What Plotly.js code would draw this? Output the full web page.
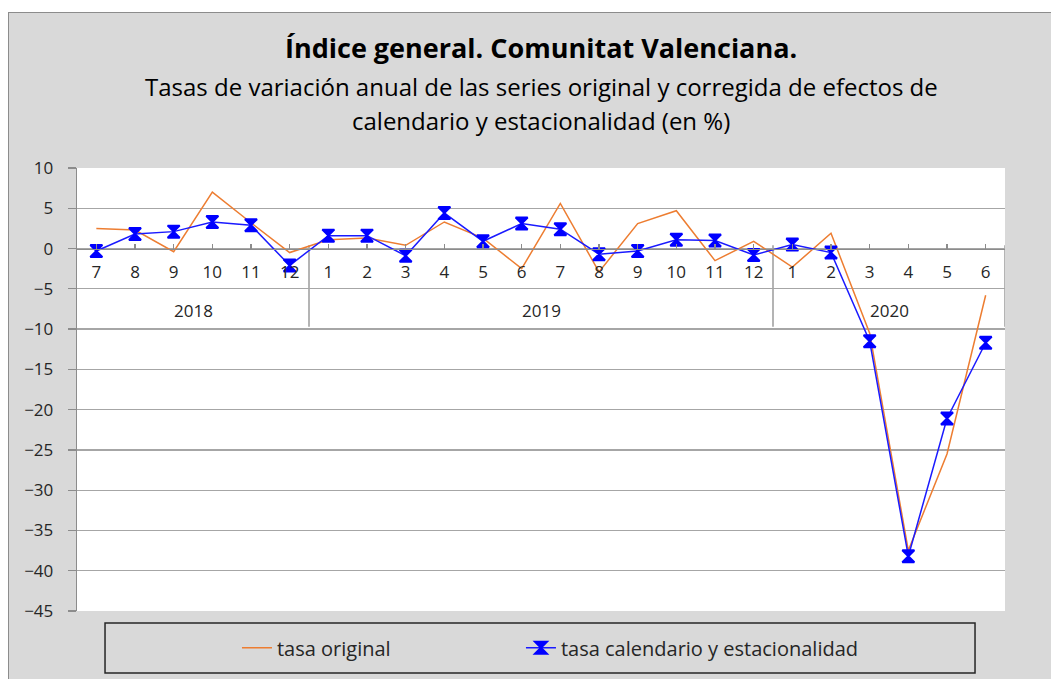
<!DOCTYPE html>
<html>
<head>
<meta charset="utf-8">
<script src="https://cdn.plot.ly/plotly-3.0.1.min.js"></script>
<style>
  html, body { margin: 0; padding: 0; background: #ffffff; width: 1051px; height: 679px; overflow: hidden; }
  #frame { position: absolute; left: 8px; top: 12px; width: 1043px; height: 667px; border-left: 1px solid #8c8c8c; border-top: 1px solid #8c8c8c; background: #d9d9d9; }
  #chart { width: 1042px; height: 666px; }
</style>
</head>
<body>
<div id="frame"><div id="chart"></div></div>
<script>
const months = ['7','8','9','10','11','12','1','2','3','4','5','6','7','8','9','10','11','12','1','2','3','4','5','6'];
const yearLabels = ['2018','2019','2020'];
const yearCounts = [6, 12, 6];
const tasaOriginal = [2.5, 2.3, -0.4, 7.0, 3.2, -0.5, 1.1, 1.3, 0.4, 3.3, 1.3, -2.5, 5.6, -2.9, 3.1, 4.7, -1.5, 0.9, -2.3, 1.9, -10.5, -37.5, -25.5, -5.8];
const tasaCalEst = [-0.3, 1.8, 2.1, 3.3, 2.9, -2.1, 1.6, 1.6, -0.9, 4.4, 0.9, 3.1, 2.4, -0.7, -0.3, 1.1, 1.0, -0.8, 0.5, -0.5, -11.5, -38.2, -21.1, -11.7];
const seriesNames = ['tasa original', 'tasa calendario y estacionalidad'];
const titleText = 'Índice general. Comunitat Valenciana.';
const subtitleLines = ['Tasas de variación anual de las series original y corregida de efectos de', 'calendario y estacionalidad (en %)'];

const idx = months.map((m, i) => i);
const FONT = 'Open Sans, sans-serif';
const yMin = -45, yMax = 10;

const traces = [
  { x: idx, y: tasaOriginal, name: seriesNames[0], type: 'scatter', mode: 'lines',
    line: { color: '#ED7D31', width: 1.5 }, hoverinfo: 'y', legend: 'legend' },
  { x: idx, y: tasaCalEst, name: seriesNames[1], type: 'scatter', mode: 'lines+markers',
    line: { color: '#1a1aff', width: 1.5 },
    marker: { symbol: 'hourglass', size: 12, color: '#0000FF', line: { color: '#0000FF', width: 2 } },
    hoverinfo: 'y', legend: 'legend2' }
];

// year group labels & dividers derived from the year arrays
const annotations = [];
const shapes = [];
let start = 0;
yearLabels.forEach((yl, k) => {
  const end = start + yearCounts[k] - 1;
  annotations.push({ x: (start + end) / 2, y: -7.7, xref: 'x', yref: 'y', text: yl, showarrow: false,
    font: { family: FONT, size: 17, color: '#262626' } });
  const bx = end + 0.5;
  shapes.push({ type: 'line', xref: 'x', yref: 'y', x0: bx, x1: bx, y0: 0.4, y1: -9.7,
    line: { color: '#8c8c8c', width: 1.3 }, layer: 'below' });
  start = end + 1;
});
// legend frame
shapes.push({ type: 'rect', xref: 'paper', yref: 'paper', x0: 0.0302, x1: 0.9677, y0: -0.14, y1: -0.0271,
  line: { color: '#262626', width: 1.5 }, fillcolor: 'rgba(0,0,0,0)' });

// title lines
annotations.push({ xref: 'paper', yref: 'paper', x: 0.5, y: 1.271, yanchor: 'middle', showarrow: false,
  text: '<b>' + titleText + '</b>', font: { family: FONT, size: 27, color: '#000000' } });
subtitleLines.forEach((t, i) => {
  annotations.push({ xref: 'paper', yref: 'paper', x: 0.5, y: [1.183, 1.108][i], yanchor: 'middle', showarrow: false,
    text: t, font: { family: FONT, size: 24, color: '#000000' } });
});

const legendBase = { orientation: 'h', y: -0.083, xanchor: 'left', yanchor: 'middle',
  bgcolor: 'rgba(0,0,0,0)', borderwidth: 0, font: { family: FONT, size: 20, color: '#262626' } };

const layout = {
  width: 1042, height: 666,
  margin: { l: 68, r: 46, t: 155, b: 68 },
  paper_bgcolor: '#d9d9d9', plot_bgcolor: '#ffffff',
  font: { family: FONT, size: 16, color: '#262626' },
  showlegend: true,
  legend: Object.assign({}, legendBase, { x: 0.1724 }),
  legend2: Object.assign({}, legendBase, { x: 0.4784 }),
  xaxis: {
    range: [-0.5, months.length - 0.5], tickmode: 'array', tickvals: idx, ticktext: months,
    anchor: 'free', position: (0 - yMin) / (yMax - yMin),
    showline: true, linecolor: '#8c8c8c', linewidth: 1.3,
    ticks: 'inside', ticklen: 5, tickcolor: '#8c8c8c', tickwidth: 1.3,
    showgrid: false, zeroline: false, ticklabelstandoff: 8,
    tickfont: { family: FONT, size: 17, color: '#262626' }, fixedrange: true
  },
  yaxis: {
    range: [yMin, yMax], dtick: 5, tick0: 0,
    showline: true, linecolor: '#8c8c8c', linewidth: 1.3,
    ticks: 'outside', ticklen: 8, tickcolor: '#8c8c8c', tickwidth: 1.3,
    showgrid: true, gridcolor: '#a6a6a6', gridwidth: 1.3, zeroline: false,
    ticklabelstandoff: 11,
    tickfont: { family: FONT, size: 17, color: '#262626' }, fixedrange: true
  },
  annotations: annotations,
  shapes: shapes
};

Plotly.newPlot('chart', traces, layout, { displayModeBar: false, staticPlot: true });
</script>
</body>
</html>
